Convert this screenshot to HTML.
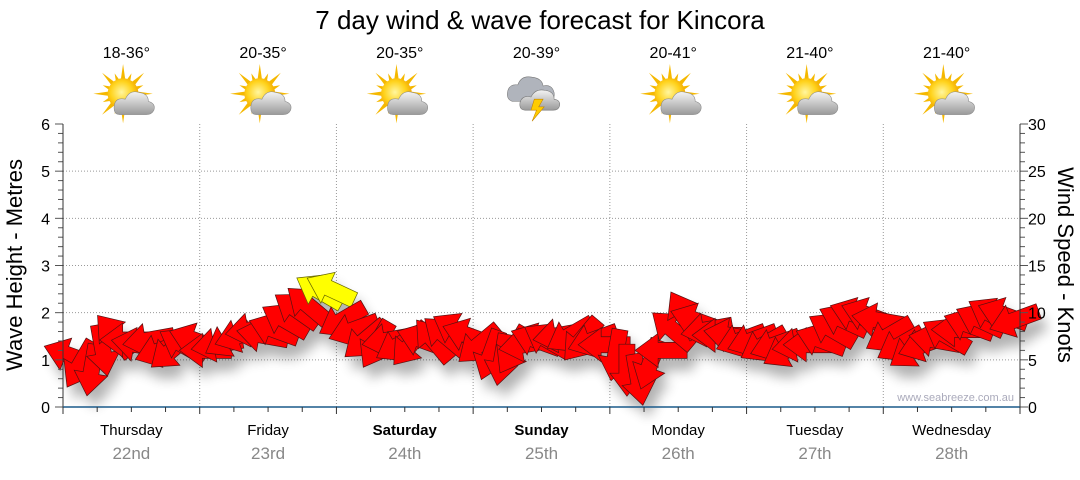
<!DOCTYPE html>
<html><head><meta charset="utf-8">
<style>
body{margin:0;background:#fff;width:1080px;height:475px;overflow:hidden;font-family:"Liberation Sans","DejaVu Sans",sans-serif}
</style></head>
<body>
<svg id="chart" width="1080" height="475" xmlns="http://www.w3.org/2000/svg">
<defs>
<filter id="sh" x="-50%" y="-50%" width="200%" height="200%"><feGaussianBlur stdDeviation="6"/></filter>
<radialGradient id="sun" cx="0.45" cy="0.45" r="0.6"><stop offset="0" stop-color="#fff6a0"/><stop offset="0.6" stop-color="#ffd21a"/><stop offset="1" stop-color="#f0a000"/></radialGradient>
<linearGradient id="cloud" x1="0" y1="0" x2="0" y2="1"><stop offset="0" stop-color="#f4f4f4"/><stop offset="1" stop-color="#9a9a9a"/></linearGradient>
</defs>
<text x="540" y="29" text-anchor="middle" font-size="26" fill="#000">7 day wind &amp; wave forecast for Kincora</text>
<g id="grid"></g>
<g id="shadows" filter="url(#sh)" opacity="0.3"></g>
<g id="arrows"></g>
<g id="axes"></g>
<g id="topg"></g>
<text transform="translate(22,265) rotate(-90)" text-anchor="middle" font-size="22" fill="#000">Wave Height - Metres</text>
<text transform="translate(1058,265) rotate(90)" text-anchor="middle" font-size="22" fill="#000">Wind Speed - Knots</text>
<text x="1014" y="401" text-anchor="end" font-size="11" fill="#aab">www.seabreeze.com.au</text>
</svg>
<script>
const days=["Thursday","Friday","Saturday","Sunday","Monday","Tuesday","Wednesday"];
const dates=["22nd","23rd","24th","25th","26th","27th","28th"];
const temps=["18-36°","20-35°","20-35°","20-39°","20-41°","21-40°","21-40°"];
const icons=["suncloud","suncloud","suncloud","storm","suncloud","suncloud","suncloud"];
const waveTicks=[0,1,2,3,4,5,6];
const windTicks=[0,5,10,15,20,25,30];
const windSpeed=[5.5,4.5,3.9,6,7.6,7.1,6.6,7.1,6,6,6.6,7.1,
6,6.6,7.1,7.6,8.2,7.6,8.2,9.2,10.3,10.8,12.3,12.5,
9.2,8.2,7.1,6.6,7.1,6.6,6.6,7.1,7.1,7.6,8.2,7.6,
6.6,5.5,5,6,6.6,7.1,7.1,7.6,7.6,7.1,7.1,6.6,
5.5,3.9,2.9,4.5,6,8.2,9.8,9.2,8.2,7.6,7.6,7.1,
7.1,6.6,6.6,6,6.6,6.6,7.1,8.2,9.2,9.8,9.8,9.2,
7.6,6.6,6,6.6,7.1,7.6,8.2,8.7,9.2,9.8,9.8,9.2];
const windDir=[200,120,100,80,230,180,190,170,160,140,210,200,
180,170,150,160,170,190,200,210,215,220,210,205,
150,160,140,120,170,150,130,200,230,220,210,200,
140,110,100,120,170,200,210,170,150,130,160,180,
100,90,80,110,180,220,240,200,170,180,190,160,
160,150,160,150,170,180,200,210,205,200,200,190,
150,150,145,160,190,210,180,200,205,210,200,160];
const X0=63,X1=1020,Y0=407,Y1=124;
const dayW=(X1-X0)/7;
const NS="http://www.w3.org/2000/svg";
function yWave(v){return Y0-(v/6)*(Y0-Y1);}
function yWind(v){return Y0-(v/30)*(Y0-Y1);}
function xT(i){return X0+(i+0.5)*(X1-X0)/windSpeed.length;}
function mk(tag,attrs,parent){const e=document.createElementNS(NS,tag);for(const k in attrs)e.setAttribute(k,attrs[k]);parent.appendChild(e);return e;}
const grid=document.getElementById('grid'),axes=document.getElementById('axes'),topG=document.getElementById('topg');
const arr=document.getElementById('arrows'),sh=document.getElementById('shadows');
waveTicks.forEach(v=>{
  if(v>0&&v<6){const l=mk('line',{x1:X0,x2:X1,y1:yWave(v),y2:yWave(v),stroke:'#999','stroke-dasharray':'1,2'},grid);
  
  }
  const t=mk('text',{x:50,y:yWave(v)+6,'text-anchor':'end','font-size':16,fill:'#000'},axes);t.textContent=v;
  
  
});
windTicks.forEach(v=>{
  const t=mk('text',{x:1028,y:yWind(v)+6,'font-size':16,fill:'#000'},axes);t.textContent=v;
  
  
});
for(let i=0;i<=30;i++){const y=Y0-i*(Y0-Y1)/30;
  mk('line',{x1:X0-(i%5==0?8:5),x2:X0,y1:y,y2:y,stroke:'#555'},axes);
  mk('line',{x1:X1,x2:X1+(i%5==0?8:5),y1:y,y2:y,stroke:'#555'},axes);}
mk('line',{x1:X0,x2:X0,y1:Y1,y2:Y0,stroke:'#333'},axes);
mk('line',{x1:X1,x2:X1,y1:Y1,y2:Y0,stroke:'#333'},axes);
mk('line',{x1:X0,x2:X1,y1:Y0,y2:Y0,stroke:'#1a5a8a','stroke-width':1.5},axes);
for(let i=0;i<=28;i++){const x=X0+i*dayW/4;mk('line',{x1:x,x2:x,y1:Y0,y2:Y0+(i%4==0?7:5),stroke:'#333'},axes);}
days.forEach((d,i)=>{
  const cx=X0+(i+0.5)*dayW;
  if(i>0){const l=mk('line',{x1:X0+i*dayW,x2:X0+i*dayW,y1:Y1,y2:Y0,stroke:'#999','stroke-dasharray':'1,2'},grid);
    
    }
  const t=mk('text',{x:cx,y:435,'text-anchor':'middle','font-size':15,fill:'#000','font-weight':(i==2||i==3)?'bold':'normal'},axes);t.textContent=d;
  
  
  const t2=mk('text',{x:cx,y:459,'text-anchor':'middle','font-size':17,fill:'#888'},axes);t2.textContent=dates[i];
  
  
  const t3=mk('text',{x:cx-5,y:58,'text-anchor':'middle','font-size':16,fill:'#000'},topG);t3.textContent=temps[i];
  
  
  const g=mk('g',{transform:`translate(${cx-5},97) scale(1.1)`},topG);
  
  
  if(icons[i]=='suncloud'){
    for(let k=0;k<16;k++){const a=k*Math.PI/8,r=k%2?20:27;
      mk('polygon',{points:`${-3+r*Math.cos(a)},${-3+r*Math.sin(a)} ${-3+10*Math.cos(a+0.25)},${-3+10*Math.sin(a+0.25)} ${-3+10*Math.cos(a-0.25)},${-3+10*Math.sin(a-0.25)}`,fill:'#f5b800'},g);}
    mk('circle',{cx:-3,cy:-3,r:14,fill:'url(#sun)'},g);
    mk('path',{d:'M-6,16 Q-12,16 -11,8 Q-10,0 -1,2 Q3,-7 12,-4 Q20,-3 20,4 Q27,6 25,12 Q23,16 18,16 Z',fill:'url(#cloud)',stroke:'#888','stroke-width':0.5},g);
  } else {
    mk('path',{d:'M-22,4 Q-28,2 -26,-6 Q-24,-12 -17,-11 Q-14,-20 -4,-18 Q5,-17 6,-10 Q14,-12 16,-4 Q17,4 10,4 Z',fill:'#b0b4bc',stroke:'#777','stroke-width':0.5},g);
    mk('path',{d:'M-10,12 Q-16,12 -15,5 Q-13,-2 -5,0 Q-1,-8 8,-6 Q16,-5 16,2 Q22,3 21,8 Q20,12 15,12 Z',fill:'url(#cloud)',stroke:'#777','stroke-width':0.5},g);
    mk('polygon',{points:'-2,2 6,2 2,9 7,9 -4,22 0,12 -5,12',fill:'#ffcc00',stroke:'#c08000','stroke-width':0.5},g);
  }
});
windSpeed.forEach((s,i)=>{
  const x=xT(i),y=yWind(s),a=windDir[i];
  const pts="26,-8 -3,-8 -3,-17 -26,0 -3,17 -3,8 26,8";
  mk('polygon',{points:pts,fill:'#000',transform:`translate(${x+6},${y+12}) rotate(${a-180})`},sh);
  const p=mk('polygon',{points:pts,fill:s>=12?'#ffff00':'#ff0000',stroke:s>=12?'#666600':'#551111','stroke-width':0.7,transform:`translate(${x},${y}) rotate(${a-180})`},arr);
  
  
});
</script>
</body></html>
